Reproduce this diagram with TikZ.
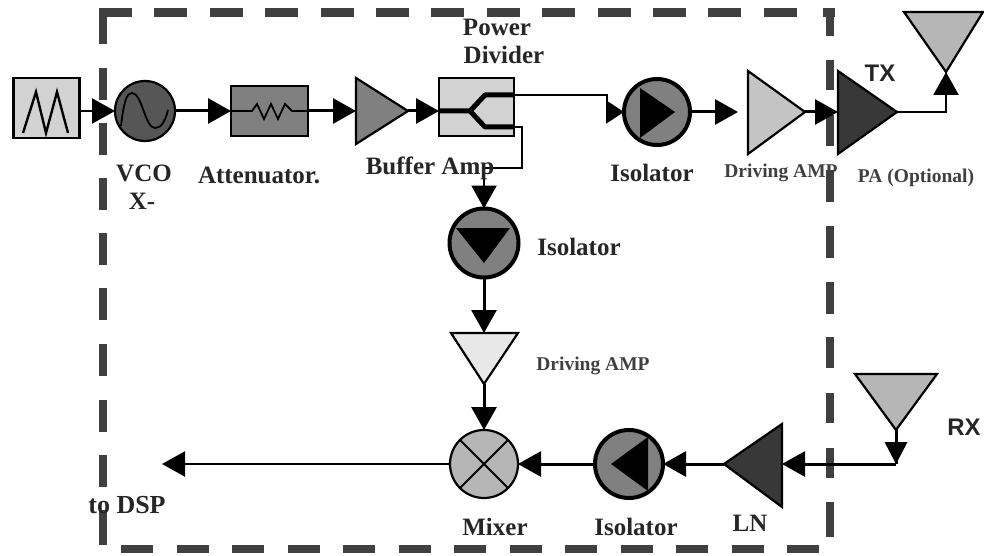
\documentclass[tikz,border=0pt]{standalone}
\usepackage{fontspec}
\setmainfont{Liberation Serif}
\newfontfamily\sansbold[BoldFont=Liberation Sans Bold]{Liberation Sans}
\usetikzlibrary{arrows.meta}
\definecolor{dashc}{HTML}{404040}
\definecolor{lightb}{HTML}{D2D2D2}
\definecolor{midb}{HTML}{808080}
\definecolor{darkb}{HTML}{383838}
\definecolor{vcoc}{HTML}{565656}
\definecolor{antc}{HTML}{B6B6B6}
\definecolor{drvc}{HTML}{C4C4C4}
\definecolor{drvl}{HTML}{E8E8E8}
\tikzset{
  frame/.style={draw=dashc,line width=8.5pt},
  blockbox/.style={draw=black,line width=2.5pt,inner sep=0pt,outer sep=0pt,rectangle},
  roundblock/.style={draw=black,circle,inner sep=0pt,outer sep=0pt},
  tri/.style={draw=black,line width=2.2pt,line join=miter},
  conn/.style={draw=black,line width=3pt,-{Triangle[length=23pt,width=25pt,fill=black]}},
  thinconn/.style={draw=black,line width=2.2pt,-{Triangle[length=23pt,width=25pt,fill=black]}},
  shortconn/.style={draw=black,line width=2.2pt,-{Triangle[length=18pt,width=23pt,fill=black]}},
  plain/.style={draw=black,line width=3pt},
  lab/.style={inner sep=0pt,outer sep=0pt,font=\fontsize{25}{27}\selectfont\bfseries,text=black!85},
  smalllab/.style={inner sep=0pt,outer sep=0pt,font=\fontsize{19.5}{21}\selectfont\bfseries,text=black!75},
  sanslab/.style={inner sep=0pt,outer sep=0pt,font=\sansbold\fontsize{24}{26}\selectfont\bfseries,text=black!85},
}
\begin{document}
\begin{tikzpicture}[x=1pt,y=-1pt]
\useasboundingbox (0,0) rectangle (984,556);
% dashed frame
\draw[frame,dash pattern=on 33pt off 22.4pt] (99,12.5) -- (800,12.5);
\draw[frame] (823,12.5) -- (835,12.5);
\draw[frame,dash pattern=on 32pt off 23.5pt] (121,549) -- (822,549);
\draw[frame] (103,10) -- (103,44) (103,68) -- (103,100) (103,123) -- (103,155) (103,178) -- (103,210)
  (103,233) -- (103,265) (103,288) -- (103,320) (103,344) -- (103,376) (103,400) -- (103,432)
  (103,455) -- (103,487) (103,510) -- (103,545);
\draw[frame] (830,9) -- (830,36) (830,60) -- (830,90) (830,115) -- (830,146) (830,170) -- (830,202)
  (830,226) -- (830,258) (830,282) -- (830,314) (830,337) -- (830,368) (830,393) -- (830,423)
  (830,448) -- (830,478) (830,502) -- (830,537);
% named anchor points of the triangles
\coordinate (bufW) at (356,111);   \coordinate (bufE) at (408,111);
\coordinate (drv1W) at (748,112);  \coordinate (drv1E) at (805,112);
\coordinate (paW) at (838,112);    \coordinate (paE) at (897,112);
\coordinate (txS) at (946,72);
\coordinate (drv2N) at (484,333);  \coordinate (drv2S) at (484,384);
\coordinate (lnW) at (724,464);    \coordinate (lnE) at (782,464);
\coordinate (rxS) at (896,430);
\coordinate (rxJ) at (896,464);
\coordinate (dspEnd) at (162,464);
\coordinate (divA) at (514,95);
\coordinate (divB) at (514,127);
\coordinate (divW) at (439,111);
% blocks
\node[blockbox,fill=lightb,minimum width=66pt,minimum height=60pt] (ramp) at (46.5,108) {};
\draw[black,line width=2.4pt,line join=miter] (23,133) -- (36,92) -- (46,133) -- (57,92) -- (68,133);
\node[roundblock,fill=vcoc,line width=2.2pt,minimum size=60pt] (vco) at (145,111) {};
\draw[black,line width=1.8pt] (121,126) .. controls (124,100) and (127,93) .. (132,93)
  .. controls (142,93) and (145,128) .. (155,128) .. controls (161,128) and (165,122) .. (168,110);
\node[blockbox,fill=midb,minimum width=77pt,minimum height=50pt] (att) at (269.5,111) {};
\path[tri,fill=midb] (356,78) -- (bufE) -- (356,144) -- cycle;
\node[blockbox,fill=lightb,minimum width=75pt,minimum height=58pt] (div) at (476.5,107) {};
\node[roundblock,fill=midb,line width=4pt,minimum size=66pt] (isoA) at (657,112) {};
\fill[black] (640,88) -- (675,112) -- (640,138) -- cycle;
\path[tri,fill=drvc] (748,71) -- (drv1E) -- (748,154) -- cycle;
\path[tri,fill=darkb] (838,71) -- (paE) -- (838,154) -- cycle;
\path[tri,fill=antc] (904,12) -- (983,12) -- (txS) -- cycle;
\node[roundblock,fill=midb,line width=4pt,minimum size=69pt] (isoB) at (484,243) {};
\fill[black] (456,228) -- (510,228) -- (484,263) -- cycle;
\path[tri,fill=drvl] (451,333) -- (518,333) -- (drv2S) -- cycle;
\node[roundblock,fill=antc,line width=2.2pt,minimum size=68pt] (mix) at (484,464) {};
\draw[black,line width=2pt] (mix.45) -- (mix.225) (mix.135) -- (mix.315);
\node[roundblock,fill=midb,line width=4pt,minimum size=68pt] (isoC) at (629,464) {};
\fill[black] (611,464) -- (648,437) -- (648,491) -- cycle;
\path[tri,fill=darkb] (lnW) -- (782,424) -- (782,507) -- cycle;
\path[tri,fill=antc] (855,374) -- (937,374) -- (rxS) -- cycle;
% inner drawings
\draw[black,line width=1.8pt] (att.west) -- (252,111) -- (257,104) -- (264,119) -- (271,104) -- (278,119) -- (285,104) -- (292,111) -- (att.east);
\draw[black,line width=5pt,line join=round] (divW) -- (470,111) -- (485,95) -- (divA);
\draw[black,line width=5pt,line join=round] (470,111) -- (485,127) -- (divB);
% connectors
\draw[thinconn] (ramp.east |- vco.west) -- (vco.west);
\draw[conn] (vco.east) -- (att.west);
\draw[conn] (att.east) -- (bufW);
\draw[conn] (bufE) -- (divW);
\draw[shortconn] (divA) -- (607,95) -- (607,112) -- (isoA.west);
\draw[conn] (isoA.east) -- (738,112);
\draw[conn] (drv1E) -- (paW);
\draw[thinconn] (paE) -- (946,112) -- (txS);
\draw[thinconn] (divB) -- (522,127) -- (522,168) -- (484,168) -- (isoB.north);
\draw[conn] (isoB.south) -- (drv2N);
\draw[conn] (drv2S) -- (mix.north);
\draw[conn] (isoC.west) -- (mix.east);
\draw[conn] (lnW) -- (isoC.east);
\draw[conn] (rxJ) -- (lnE);
\draw[plain] (rxS) -- (rxJ);
\fill[black] (884.5,442) -- (907.5,442) -- (rxJ) -- cycle;
\draw[thinconn] (mix.west) -- (dspEnd);
% labels
\node[lab] (lpow) at (497,27) {Power};
\node[lab] (ldiv) at (504,55) {Divider};
\node[lab] (lvco) at (144,173) {VCO};
\node[lab] (lx) at (142,201) {X-};
\node[lab] (latt) at (259,175) {Attenuator.};
\node[lab] (lbuf) at (430,168) {Buffer Amp};
\node[lab] (liso1) at (652,173) {Isolator};
\node[smalllab] (ldrv1) at (781,173) {Driving AMP};
\node[smalllab] (lpa) at (916,178) {PA (Optional)};
\node[sanslab] (ltx) at (880,73) {TX};
\node[lab] (liso2) at (579,247) {Isolator};
\node[smalllab] (ldrv2) at (593,366) {Driving AMP};
\node[lab] (lmix) at (495,527) {Mixer};
\node[lab] (liso3) at (636,527) {Isolator};
\node[lab] (lln) at (750,523) {LN};
\node[sanslab] (lrx) at (964,427) {RX};
\node[lab,font=\fontsize{26}{28}\selectfont\bfseries] (ldsp) at (127,505) {to DSP};
\end{tikzpicture}
\end{document}
